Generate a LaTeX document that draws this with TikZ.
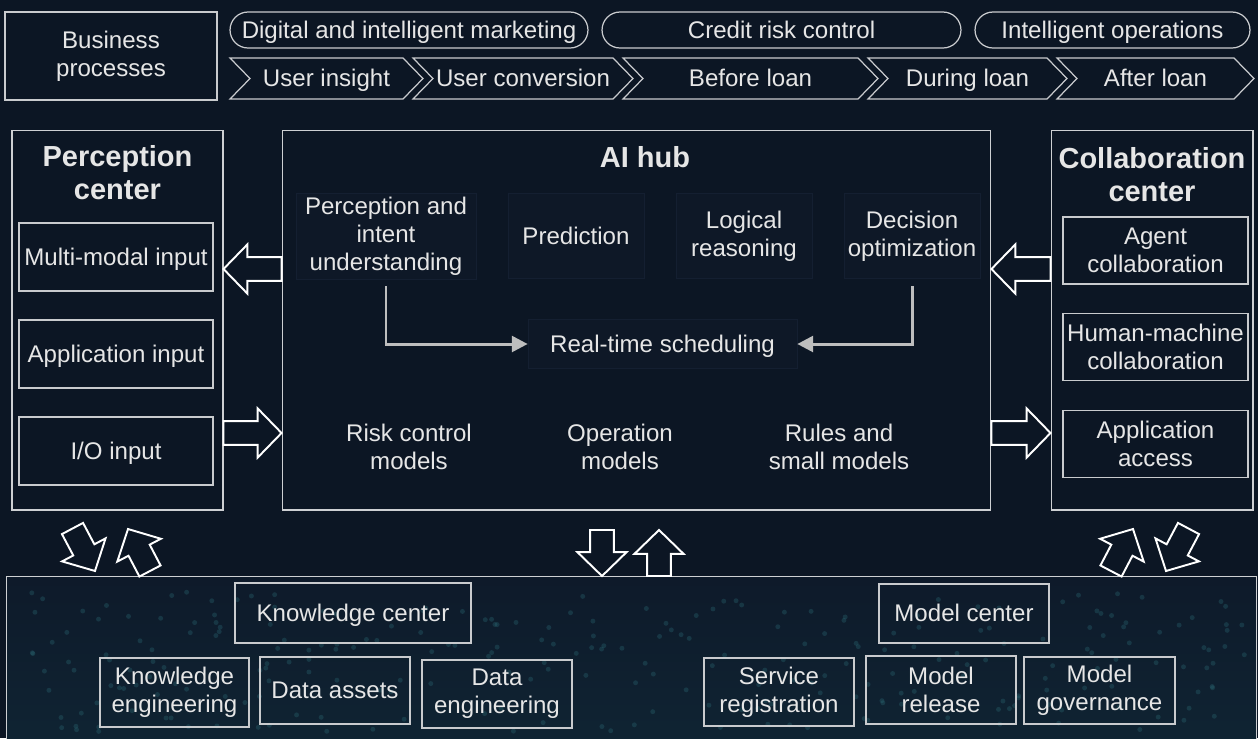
\documentclass[tikz,border=0pt]{standalone}
\usepackage{fontspec}
\setmainfont{Liberation Sans}
\usetikzlibrary{arrows.meta, calc}

\definecolor{bgnavy}{HTML}{0C1624}
\definecolor{panelnavy}{HTML}{0E1A2A}
\definecolor{paneldeep}{HTML}{0F2433}
\definecolor{cellnavy}{HTML}{0E1827}
\definecolor{cellline}{HTML}{141F31}
\definecolor{linegray}{HTML}{C9CBCE}
\definecolor{textgray}{HTML}{E6E6E6}
\definecolor{flowgray}{HTML}{BEBEBE}
\definecolor{dotteal}{HTML}{2B6B76}

% line box as a slide program sets it
\newcommand{\pptstrut}{\rule[-0.212em]{0pt}{1.117em}}

% outlined block arrow between two points
\newcommand{\hollowarrow}[2]{%
  \draw[hollow] let \p1=#1, \p2=#2,
    \n1={atan2(\y2-\y1,\x2-\x1)}, \n2={veclen(\x2-\x1,\y2-\y1)} in
    [shift={(\p1)}, rotate=\n1]
    (0pt,-6.8pt) -- ({\n2-13.6pt},-6.8pt) -- ({\n2-13.6pt},-14pt) -- ({\n2+0pt},0pt)
    -- ({\n2-13.6pt},14pt) -- ({\n2-13.6pt},6.8pt) -- (0pt,6.8pt) -- cycle;}

\begin{document}
\begin{tikzpicture}[x=0.02cm, y=-0.02cm,
    txt/.style={text=textgray, font=\fontsize{13.7}{16}\selectfont, align=center},
    oneline/.style={execute at begin node=\pptstrut, execute at end node=\pptstrut},
    title/.style={txt, font=\fontsize{16.5}{18.8}\selectfont\bfseries},
    box/.style={rectangle, draw=linegray, line width=0.7pt, inner sep=2pt, txt},
    pill/.style={box, oneline, rounded corners=0.36cm, minimum height=0.72cm, inner sep=0pt},
    panel/.style={rectangle, draw=linegray!90, line width=0.6pt},
    hubcell/.style={rectangle, fill=cellnavy, draw=cellline, line width=0.4pt, inner sep=2pt, txt},
    flow/.style={draw=flowgray, line width=1.7pt, -{Triangle[length=9pt,width=9pt]}, shorten <=4pt},
    hollow/.style={draw=white, line width=1.1pt, fill=bgnavy, line join=miter}]
    \useasboundingbox (0,0) rectangle (1258,738);
    \fill[bgnavy] (0,0) rectangle (1258,738);

    % Business processes
    \node[box, minimum width=4.24cm, minimum height=1.76cm] (biz) at (111,56) {Business\\processes};
    \node[pill, minimum width=7.16cm] (mkt) at (409,30) {Digital and intelligent marketing};
    \node[pill, minimum width=7.18cm] (credit) at (781.5,30) {Credit risk control};
    \node[pill, minimum width=5.5cm] (ops) at (1112.5,30) {Intelligent operations};
    \foreach \lx/\rx/\txt [count=\i] in {230/403/User insight, 413/613/User conversion,
        623/858/Before loan, 868/1047/During loan, 1057/1234/After loan} {
        \draw[draw=linegray, line width=0.7pt] (\lx,58) -- (\rx,58) -- (\rx+20,78.5) -- (\rx,99)
            -- (\lx,99) -- (\lx+20,78.5) -- cycle;
        \node[txt, oneline, inner sep=0pt] (ch\i) at ({(\lx+\rx+20)/2},78.5) {\txt};
    }

    % Perception center
    \node[panel, minimum width=4.22cm, minimum height=7.6cm] (percep) at (117.5,320) {};
    \node[title] (percepT) at (117.5,173) {Perception\\center};
    \node[box, oneline, minimum width=3.88cm, minimum height=1.36cm] (mmin) at (116,257) {Multi-modal input};
    \node[box, oneline, minimum width=3.88cm, minimum height=1.36cm] (appin) at (116,354) {Application input};
    \node[box, oneline, minimum width=3.88cm, minimum height=1.36cm] (ioin) at (116,451) {I/O input};

    % AI hub
    \node[panel, minimum width=14.18cm, minimum height=7.6cm] (hub) at (636.5,320) {};
    \node[title, oneline] (hubT) at (645,157) {AI hub};
    \node[hubcell, minimum width=3.6cm, minimum height=1.7cm] (c1) at (386,236) {Perception and\\intent\\understanding};
    \node[hubcell, oneline, minimum width=2.72cm, minimum height=1.7cm] (c2) at (576,236) {Prediction};
    \node[hubcell, minimum width=2.72cm, minimum height=1.7cm] (c3) at (744,236) {Logical\\reasoning};
    \node[hubcell, minimum width=2.72cm, minimum height=1.7cm] (c4) at (912,236) {Decision\\optimization};
    \node[hubcell, oneline, minimum width=5.38cm, minimum height=0.98cm] (sched) at (662.5,344) {Real-time scheduling};
    \draw[flow] (c1.south) |- (sched.west);
    \draw[flow] (c4.south) |- (sched.east);
    \node[txt] (riskm) at (409,447) {Risk control\\models};
    \node[txt] (operm) at (620,447) {Operation\\models};
    \node[txt] (rulem) at (839,447) {Rules and\\small models};

    % Collaboration center
    \node[panel, minimum width=4.04cm, minimum height=7.6cm] (collab) at (1152,320) {};
    \node[title] (collabT) at (1152,175) {Collaboration\\center};
    \node[box, minimum width=3.7cm, minimum height=1.34cm] (agent) at (1155.5,250.5) {Agent\\collaboration};
    \node[box, minimum width=3.7cm, minimum height=1.34cm] (human) at (1155.5,347) {Human-machine\\collaboration};
    \node[box, minimum width=3.7cm, minimum height=1.34cm] (access) at (1155.5,444) {Application\\access};

    % Bottom platform
    \node[panel, anchor=north west, minimum width=25cm, minimum height=3.4cm,
        top color=panelnavy, bottom color=paneldeep] (base) at (6,576) {};
    \pgfmathsetseed{42}
    \foreach \k in {1,...,260} {
        \fill[dotteal, opacity=0.33] ({15+1230*rnd},{592+140*rnd}) circle (1.4pt);
    }
    \node[box, oneline, minimum width=4.72cm, minimum height=1.2cm] (kc) at (353,613) {Knowledge center};
    \node[box, minimum width=2.98cm, minimum height=1.38cm] (keng) at (174.5,692.5) {Knowledge\\engineering};
    \node[box, oneline, minimum width=3.0cm, minimum height=1.34cm] (dassets) at (335,690.5) {Data assets};
    \node[box, minimum width=3.0cm, minimum height=1.36cm] (deng) at (497,694) {Data\\engineering};
    \node[box, oneline, minimum width=3.4cm, minimum height=1.18cm] (mc) at (964,613.5) {Model center};
    \node[box, minimum width=3.0cm, minimum height=1.36cm] (sreg) at (779,692) {Service\\registration};
    \node[box, minimum width=3.0cm, minimum height=1.36cm] (mrel) at (941,690) {Model\\release};
    \node[box, minimum width=3.02cm, minimum height=1.34cm] (mgov) at (1099.5,690.5) {Model\\governance};

    % Block arrows
    \hollowarrow{(hub.west |- 0,269)}{(percep.east |- 0,269)}
    \hollowarrow{(percep.east |- 0,433)}{(hub.west |- 0,433)}
    \hollowarrow{(collab.west |- 0,269)}{(hub.east |- 0,269)}
    \hollowarrow{(hub.east |- 0,433)}{(collab.west |- 0,433)}
    \coordinate (dtop) at (602,530);
    \coordinate (utop) at (659,530);
    \hollowarrow{(dtop)}{(base.north -| dtop)}
    \hollowarrow{(base.north -| utop)}{(utop)}
    \coordinate (la1) at (72.5,528.5);
    \coordinate (la2) at (95,571);
    \coordinate (lb1) at (150,571);
    \coordinate (lb2) at (128,529);
    \coordinate (ra1) at (1111,571);
    \coordinate (ra2) at (1133,529);
    \coordinate (rb1) at (1188.5,528.5);
    \coordinate (rb2) at (1166,571);
    \hollowarrow{(la1)}{(la2)}
    \hollowarrow{(lb1)}{(lb2)}
    \hollowarrow{(ra1)}{(ra2)}
    \hollowarrow{(rb1)}{(rb2)}
\end{tikzpicture}
\end{document}
